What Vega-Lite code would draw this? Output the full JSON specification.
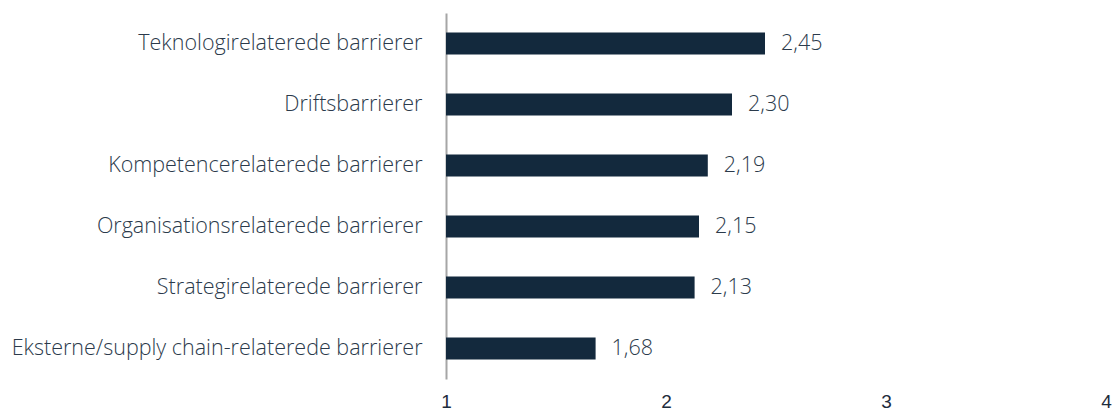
{
  "$schema": "https://vega.github.io/schema/vega-lite/v6.json",
  "autosize": {"type": "none"},
  "width": 660,
  "height": 366,
  "padding": {"left": 446, "top": 13, "right": 13, "bottom": 35},
  "background": "white",
  "config": {
    "view": {"stroke": null},
    "locale": {"number": {"decimal": ",", "thousands": ".", "grouping": [3], "currency": ["", " kr"]}}
  },
  "data": {
    "values": [
      {"category": "Teknologirelaterede barrierer", "value": 2.45},
      {"category": "Driftsbarrierer", "value": 2.30},
      {"category": "Kompetencerelaterede barrierer", "value": 2.19},
      {"category": "Organisationsrelaterede barrierer", "value": 2.15},
      {"category": "Strategirelaterede barrierer", "value": 2.13},
      {"category": "Eksterne/supply chain-relaterede barrierer", "value": 1.68}
    ]
  },
  "encoding": {
    "y": {
      "field": "category",
      "type": "nominal",
      "sort": null,
      "scale": {"paddingInner": 0.64, "paddingOuter": 0.32},
      "axis": {
        "title": null,
        "ticks": false,
        "domainColor": "#a6a6a6",
        "domainWidth": 2,
        "labelPadding": 24,
        "labelFont": "Open Sans",
        "labelFontWeight": 300,
        "labelFontSize": 21.5,
        "labelColor": "#2b3a4b",
        "labelLimit": 600
      }
    },
    "x": {
      "field": "value",
      "type": "quantitative",
      "scale": {"domain": [1, 4], "nice": false, "zero": false},
      "axis": {
        "title": null,
        "values": [1, 2, 3, 4],
        "format": "d",
        "domain": false,
        "ticks": false,
        "grid": false,
        "labelPadding": 13,
        "labelFont": "Liberation Sans",
        "labelFontSize": 19,
        "labelColor": "#1d2c3c",
        "labelOverlap": false,
        "labelFlush": false
      }
    }
  },
  "layer": [
    {
      "mark": {"type": "bar", "color": "#13293d", "clip": false},
      "encoding": {"x2": {"datum": 1}}
    },
    {
      "mark": {"type": "text", "align": "left", "baseline": "middle", "dx": 16, "font": "Open Sans", "fontWeight": 300, "fontSize": 21.5, "color": "#2b3a4b"},
      "encoding": {"text": {"field": "value", "type": "quantitative", "format": ".2f"}}
    }
  ]
}
